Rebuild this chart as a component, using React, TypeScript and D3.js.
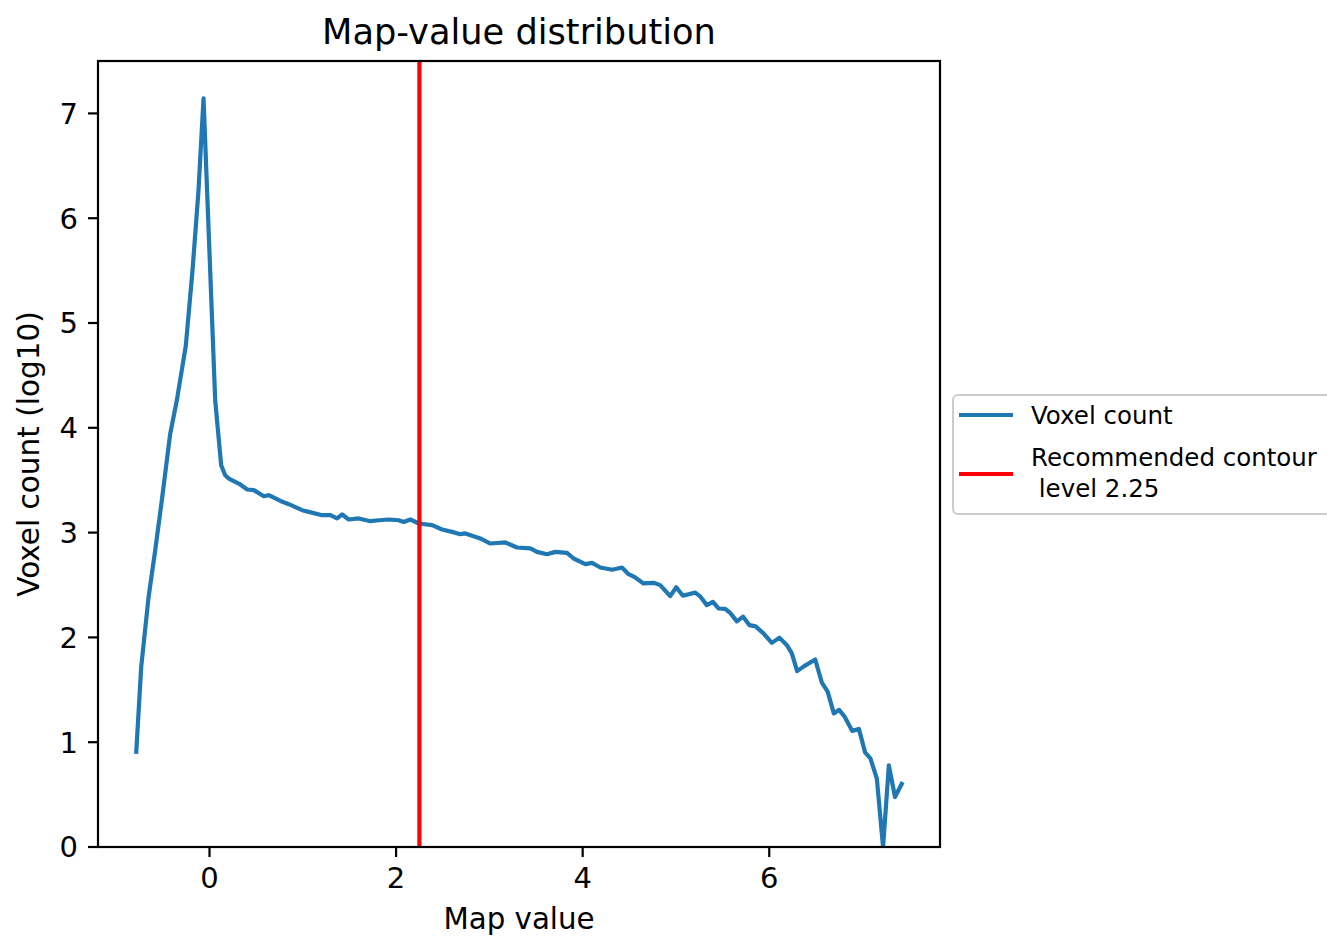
import React from "react";
import * as d3 from "d3";

const mapValues: number[] = [
  -0.785, -0.732, -0.653, -0.582, -0.511, -0.421, -0.35, -0.254, -0.182, -0.118, -0.064,
  -0.021, 0.061, 0.125, 0.168, 0.207, 0.314, 0.404, 0.475, 0.582, 0.635, 0.761, 0.85,
  0.993, 1.064, 1.207, 1.296, 1.368, 1.422, 1.492, 1.599, 1.725, 1.814, 1.921, 2.028,
  2.081, 2.153, 2.242, 2.386, 2.493, 2.6, 2.689, 2.742, 2.903, 3.01, 3.171, 3.296, 3.439,
  3.51, 3.618, 3.707, 3.832, 3.903, 4.028, 4.1, 4.189, 4.317, 4.421, 4.492, 4.563, 4.652,
  4.76, 4.831, 4.938, 5.003, 5.074, 5.206, 5.26, 5.331, 5.396, 5.456, 5.528, 5.581, 5.653,
  5.72, 5.788, 5.854, 5.938, 6.028, 6.109, 6.189, 6.242, 6.299, 6.367, 6.492, 6.564, 6.626,
  6.692, 6.749, 6.808, 6.89, 6.961, 7.027, 7.084, 7.153, 7.22, 7.282, 7.348, 7.42,
];

const logCounts: number[] = [
  0.909, 1.719, 2.387, 2.832, 3.309, 3.945, 4.263, 4.784, 5.503, 6.266, 7.143,
  6.151, 4.263, 3.643, 3.548, 3.516, 3.468, 3.411, 3.405, 3.347, 3.357, 3.302, 3.271,
  3.214, 3.198, 3.166, 3.166, 3.135, 3.173, 3.125, 3.135, 3.109, 3.118, 3.125, 3.118,
  3.102, 3.125, 3.087, 3.071, 3.03, 3.007, 2.985, 2.992, 2.944, 2.896, 2.906, 2.858, 2.849,
  2.816, 2.794, 2.816, 2.807, 2.753, 2.699, 2.711, 2.667, 2.646, 2.667, 2.603, 2.572, 2.515,
  2.521, 2.499, 2.394, 2.479, 2.398, 2.427, 2.391, 2.308, 2.339, 2.276, 2.273, 2.234, 2.153,
  2.198, 2.117, 2.105, 2.038, 1.948, 1.998, 1.926, 1.847, 1.678, 1.721, 1.79, 1.569, 1.483,
  1.275, 1.309, 1.243, 1.108, 1.127, 0.903, 0.845, 0.655, 0, 0.778, 0.477, 0.602,
];

const xTicks: number[] = [0, 2, 4, 6];
const yTicks: number[] = [0, 1, 2, 3, 4, 5, 6, 7];
const contourLevel = 2.25;
const titleText = "Map-value distribution";
const xLabel = "Map value";
const yLabel = "Voxel count (log10)";
const legendLabels: string[] = ["Voxel count", "Recommended contour", " level 2.25"];

const W = 1327;
const H = 938;
const M = { left: 98, right: 940, top: 61, bottom: 847 };
const FONT = "'DejaVu Sans', sans-serif";
const BLUE = "#1f77b4";
const RED = "#ff0000";

export default function App() {
  const xmin = d3.min(mapValues)!;
  const xmax = d3.max(mapValues)!;
  const xpad = (xmax - xmin) * 0.05;
  const ymax = d3.max(logCounts)!;
  const x = d3.scaleLinear().domain([xmin - xpad, xmax + xpad]).range([M.left, M.right]);
  const y = d3.scaleLinear().domain([0, ymax * 1.05]).range([M.bottom, M.top]);

  const pts: [number, number][] = mapValues.map((v, i) => [v, logCounts[i]]);
  const line = d3
    .line<[number, number]>()
    .x((d) => x(d[0]))
    .y((d) => y(d[1]));

  const cx = (M.left + M.right) / 2;
  const cy = (M.top + M.bottom) / 2;

  const legX = 953;
  const legY = 395;

  return (
    <svg
      width={W}
      height={H}
      style={{ position: "absolute", left: 0, top: 0, display: "block", background: "#fff" }}
      fontFamily={FONT}
    >
      <defs>
        <clipPath id="plotclip">
          <rect x={M.left} y={M.top} width={M.right - M.left} height={M.bottom - M.top} />
        </clipPath>
      </defs>
      <rect x={0} y={0} width={W} height={H} fill="#fff" />

      <g clipPath="url(#plotclip)">
        <path d={line(pts) || ""} fill="none" stroke={BLUE} strokeWidth={4.2} strokeLinejoin="round" strokeLinecap="square" />
        <line x1={x(contourLevel)} x2={x(contourLevel)} y1={M.top} y2={M.bottom} stroke={RED} strokeWidth={4.2} />
      </g>

      <rect
        x={M.left}
        y={M.top}
        width={M.right - M.left}
        height={M.bottom - M.top}
        fill="none"
        stroke="#000"
        strokeWidth={2.2}
      />

      {xTicks.map((t) => (
        <g key={"x" + t}>
          <line x1={x(t)} x2={x(t)} y1={M.bottom} y2={M.bottom + 10} stroke="#000" strokeWidth={2.2} />
          <text x={x(t)} y={M.bottom + 41} textAnchor="middle" fontSize={29} fill="#000">
            {t}
          </text>
        </g>
      ))}

      {yTicks.map((t) => (
        <g key={"y" + t}>
          <line x1={M.left - 10} x2={M.left} y1={y(t)} y2={y(t)} stroke="#000" strokeWidth={2.2} />
          <text x={M.left - 20} y={y(t)} dy="0.36em" textAnchor="end" fontSize={29} fill="#000">
            {t}
          </text>
        </g>
      ))}

      <text x={cx} y={44} textAnchor="middle" fontSize={35.2} fill="#000">
        {titleText}
      </text>
      <text x={cx} y={929} textAnchor="middle" fontSize={29.3} fill="#000">
        {xLabel}
      </text>
      <text
        transform={`translate(39,${cy}) rotate(-90)`}
        textAnchor="middle"
        fontSize={29.5}
        fill="#000"
      >
        {yLabel}
      </text>

      <rect
        x={legX}
        y={legY}
        width={420}
        height={119}
        rx={5}
        ry={5}
        fill="#fff"
        stroke="#cccccc"
        strokeWidth={2}
      />
      <line x1={959} x2={1013} y1={415} y2={415} stroke={BLUE} strokeWidth={4.2} />
      <text x={1031} y={424} fontSize={24.5} fill="#000">
        {legendLabels[0]}
      </text>
      <line x1={959} x2={1013} y1={474} y2={474} stroke={RED} strokeWidth={4.2} />
      <text x={1031} y={466} fontSize={24.5} fill="#000">
        {legendLabels[1]}
      </text>
      <text x={1031} y={497} fontSize={24.5} fill="#000" style={{ whiteSpace: "pre" }}>
        {legendLabels[2]}
      </text>
    </svg>
  );
}
